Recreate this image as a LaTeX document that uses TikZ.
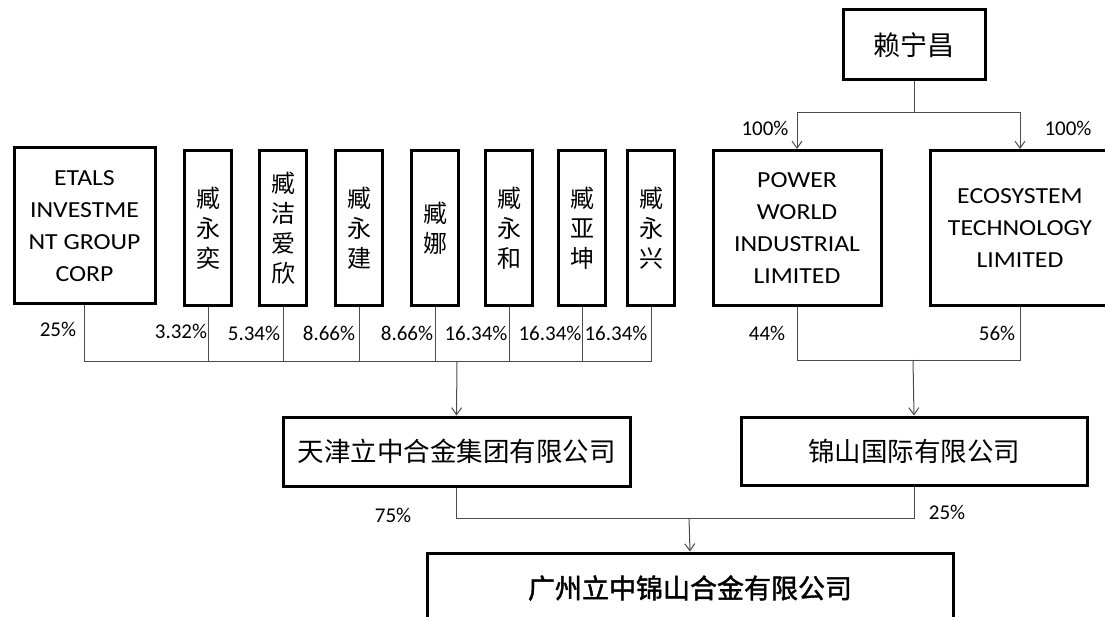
\documentclass[tikz,border=0pt]{standalone}
\usepackage{fontspec}
\setmainfont{Carlito}
\newfontfamily\boxfont[FakeStretch=1.12]{Carlito}
\newfontfamily\cjk{Noto Sans CJK SC}
\newfontfamily\cjkbold[FakeBold=1.5]{Noto Sans CJK SC}
\usetikzlibrary{arrows.meta}

\begin{document}
\begin{tikzpicture}[x=1pt,y=-1pt,
    box/.style={draw,line width=3pt,inner sep=0pt,align=center},
    namebox/.style={box,minimum width=47,minimum height=155,font=\cjk\fontsize{24}{30}\selectfont},
    engbox/.style={box,minimum height=155,font=\boxfont\fontsize{23}{32}\selectfont},
    link/.style={draw=black!70,line width=1pt},
    arr/.style={link,-{Straight Barb[length=7pt,width=10pt]}},
    pct/.style={font=\fontsize{21}{21}\selectfont,inner sep=0pt}]
\useasboundingbox (0,0) rectangle (1105,617);

% shareholders of tianjin
\node[engbox,minimum width=141,minimum height=156] at (84.5,226)(etals){ETALS\\INVESTME\\NT GROUP\\CORP};
\foreach \n/\x/\t in {yi/208/{臧\\永\\奕}, jie/283/{臧\\洁\\爱\\欣}, jian/359/{臧\\永\\建}, na/435/{臧\\娜},
    he/509/{臧\\永\\和}, kun/582/{臧\\亚\\坤}, xing/651/{臧\\永\\兴}}{
    \node[namebox] at (\x,228)(\n){\t};
}

% jinshan side
\node[box,minimum width=142,minimum height=70,font=\cjk\fontsize{27}{27}\selectfont] at (914,45)(lai){赖宁昌};
\node[engbox,minimum width=168] at (797,228)(power){POWER\\WORLD\\INDUSTRIAL\\LIMITED};
\node[engbox,minimum width=180] at (1020,228)(eco){ECOSYSTEM\\TECHNOLOGY\\LIMITED};

\node[box,minimum width=347,minimum height=69,font=\cjk\fontsize{26.5}{26.5}\selectfont] at (456.5,451.5)(tianjin){天津立中合金集团有限公司};
\node[box,minimum width=346,minimum height=68,font=\cjk\fontsize{26.5}{26.5}\selectfont] at (914,451)(jinshan){锦山国际有限公司};
\node[box,minimum width=526,minimum height=70,font=\cjkbold\fontsize{27}{27}\selectfont] at (690,588)(guangzhou){广州立中锦山合金有限公司};

% connectors
\coordinate (tjin) at (457,361);
\foreach \n in {etals,yi,jie,jian,na,he,kun,xing}{
    \draw[link] (\n.south) |- (tjin);
}
\draw[arr] (tjin) -- (tianjin.north);

\coordinate (laibus) at (914,113);
\draw[link] (lai.south) -- (laibus);
\draw[arr] (laibus) -| (power.north);
\draw[arr] (laibus) -| (eco.north);

\coordinate (jsin) at (913,360);
\draw[link] (power.south) |- (jsin);
\draw[link] (eco.south) |- (jsin);
\draw[arr] (jsin) -- (jinshan.north);

\coordinate (gzin) at (689,518);
\draw[link] (tianjin.south) |- (gzin);
\draw[link] (jinshan.south) |- (gzin);
\draw[arr] (gzin) -- (guangzhou.north);

% percentages
\foreach \v/\x/\y [count=\i] in {25\%/58/329, 3.32\%/181/331, 5.34\%/254/333, 8.66\%/329/333,
    8.66\%/407/333, 16.34\%/476/333, 16.34\%/550/333, 16.34\%/616/333,
    100\%/765/128, 100\%/1068/128, 44\%/767/333, 56\%/997/333, 75\%/393/515, 25\%/947/512}{
    \node[pct] at (\x,\y)(pct\i){\v};
}
\end{tikzpicture}
\end{document}
